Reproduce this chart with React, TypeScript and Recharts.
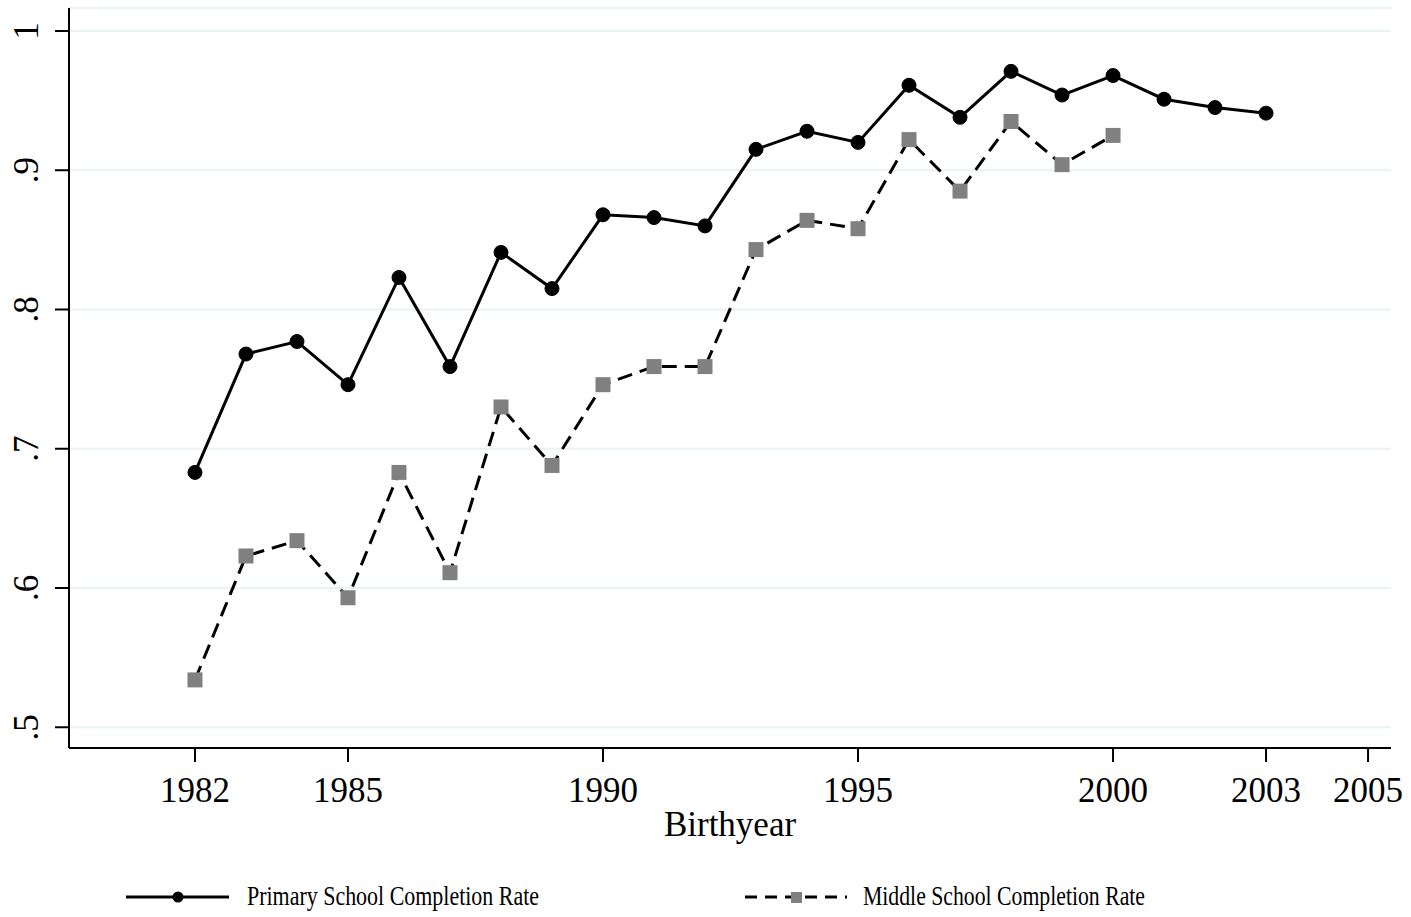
import React from 'react'
import { LineChart, Line, XAxis, YAxis, CartesianGrid } from 'recharts'

const years = [1982, 1983, 1984, 1985, 1986, 1987, 1988, 1989, 1990, 1991, 1992, 1993, 1994, 1995, 1996, 1997, 1998, 1999, 2000, 2001, 2002, 2003]
const primaryRate = [0.683, 0.768, 0.777, 0.746, 0.823, 0.759, 0.841, 0.815, 0.868, 0.866, 0.86, 0.915, 0.928, 0.92, 0.961, 0.938, 0.971, 0.954, 0.968, 0.951, 0.945, 0.941]
const middleRate = [0.534, 0.623, 0.634, 0.593, 0.683, 0.611, 0.73, 0.688, 0.746, 0.759, 0.759, 0.843, 0.864, 0.858, 0.922, 0.885, 0.935, 0.904, 0.925]
const xTicks = [1982, 1985, 1990, 1995, 2000, 2003, 2005]
const yTicks = [0.5, 0.6, 0.7, 0.8, 0.9, 1]

const FONT = '"Liberation Serif", "Times New Roman", serif'
const GREY = '#808080'

const data = years.map((year, i) => ({
  year,
  primary: primaryRate[i],
  middle: i < middleRate.length ? middleRate[i] : null
}))

// stata-like y labels, rotated
const YTick = (props: any) => {
  const { x, y, payload } = props
  const v = payload.value
  const label = v === 1 ? '1' : '.' + Math.round(v * 10)
  return (
    <text x={x - 2} y={y} transform={`rotate(-90, ${x - 2}, ${y})`} textAnchor="middle" fontFamily={FONT} fontSize={35} fill="#000">
      {label}
    </text>
  )
}

const XTick = (props: any) => {
  const { x, payload } = props
  return (
    <text x={x} y={802} textAnchor="middle" fontFamily={FONT} fontSize={35} fill="#000">
      {payload.value}
    </text>
  )
}

const SquareDot = (props: any) => {
  const { cx, cy, index } = props
  if (cy == null || isNaN(cy)) return <g key={index} />
  return <rect key={index} x={cx - 7.5} y={cy - 7.5} width={15} height={15} fill={GREY} />
}

export default function App() {
  return (
    <div style={{ position: 'absolute', left: 0, top: 0, width: 1411, height: 917, background: '#fff' }}>
      <LineChart width={1411} height={917} data={data} margin={{ top: 8, right: 20, left: 0, bottom: 0 }}>
        <CartesianGrid vertical={false} stroke="#eaf2f3" strokeWidth={2} />
        <XAxis
          dataKey="year"
          type="number"
          domain={[1979.53, 2005.45]}
          allowDataOverflow
          ticks={xTicks}
          tick={<XTick />}
          tickSize={14}
          height={169}
          stroke="#000"
          strokeWidth={2}
          label={{ value: 'Birthyear', position: 'insideTop', offset: 63, fontFamily: FONT, fontSize: 35, fill: '#000' }}
        />
        <YAxis
          type="number"
          domain={[0.4851, 1.0165]}
          allowDataOverflow
          ticks={yTicks}
          tick={<YTick />}
          tickSize={14}
          tickMargin={15}
          width={69}
          stroke="#000"
          strokeWidth={2}
        />
        <Line
          dataKey="primary"
          stroke="#000"
          strokeWidth={3}
          dot={{ r: 7, fill: '#000', stroke: '#000', strokeWidth: 1 }}
          isAnimationActive={false}
        />
        <Line
          dataKey="middle"
          stroke="#000"
          strokeWidth={3}
          strokeDasharray="15 8"
          dot={<SquareDot />}
          isAnimationActive={false}
        />
      </LineChart>
      {/* legend */}
      <svg width={1411} height={60} style={{ position: 'absolute', left: 0, top: 867 }}>
        <line x1={126} x2={229} y1={30} y2={30} stroke="#000" strokeWidth={3} />
        <circle cx={178} cy={30} r={5.5} fill="#000" />
        <text x={247} y={38} fontFamily={FONT} fontSize={28} fill="#000" textLength={292} lengthAdjust="spacingAndGlyphs">Primary School Completion Rate</text>
        <line x1={745} x2={847} y1={30} y2={30} stroke="#000" strokeWidth={3} strokeDasharray="12 8" />
        <rect x={791} y={25} width={11} height={11} fill={GREY} />
        <text x={863} y={38} fontFamily={FONT} fontSize={28} fill="#000" textLength={282} lengthAdjust="spacingAndGlyphs">Middle School Completion Rate</text>
      </svg>
    </div>
  )
}
